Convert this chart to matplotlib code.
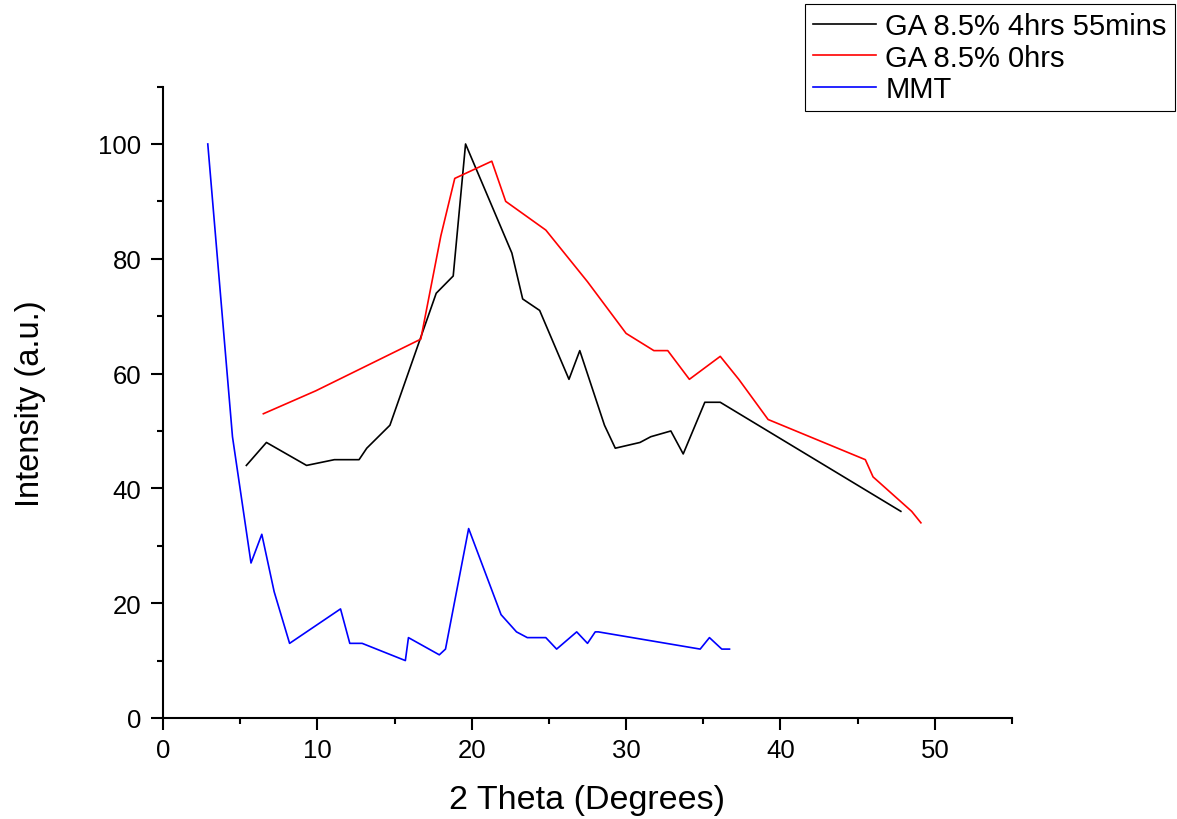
import numpy as np
import matplotlib
matplotlib.use('Agg')
import matplotlib.pyplot as plt
from matplotlib.ticker import MultipleLocator

plt.rcParams['font.family'] = ['Liberation Sans', 'DejaVu Sans']

# GA 8.5% 4hrs 55mins
ga_long_x = [5.4, 6.7, 9.3, 11.1, 12.7, 13.2, 14.7, 17.7, 18.8, 19.6, 22.6, 23.3, 24.4,
             26.3, 27.0, 28.6, 29.3, 30.9, 31.6, 32.9, 33.7, 35.1, 36.1, 47.8]
ga_long_y = [44, 48, 44, 45, 45, 47, 51, 74, 77, 100, 81, 73, 71,
             59, 64, 51, 47, 48, 49, 50, 46, 55, 55, 36]

# GA 8.5% 0hrs
ga_zero_x = [6.5, 9.9, 16.7, 18.0, 18.9, 21.3, 22.2, 24.8, 27.5, 30.0, 31.8, 32.7,
             34.1, 36.1, 37.3, 39.2, 45.5, 46.0, 48.5, 49.1]
ga_zero_y = [53, 57, 66, 84, 94, 97, 90, 85, 76, 67, 64, 64,
             59, 63, 59, 52, 45, 42, 36, 34]

# MMT
mmt_x = [2.9, 4.5, 5.7, 6.4, 7.2, 8.2, 11.5, 12.1, 12.9, 15.7, 15.9, 17.9, 18.3, 19.8,
         21.9, 22.9, 23.6, 24.8, 25.5, 26.8, 27.5, 28.0, 28.2, 34.8, 35.4, 36.2, 36.7]
mmt_y = [100, 49, 27, 32, 22, 13, 19, 13, 13, 10, 14, 11, 12, 33,
         18, 15, 14, 14, 12, 15, 13, 15, 15, 12, 14, 12, 12]

labels = ['GA 8.5% 4hrs 55mins', 'GA 8.5% 0hrs', 'MMT']

fig = plt.figure(figsize=(11.77, 8.2), dpi=100)
ax = fig.add_axes([0.1385, 0.1232, 0.7213, 0.77])

lw = 1.2
ax.plot(ga_long_x, ga_long_y, color='black', lw=lw, label=labels[0])
ax.plot(ga_zero_x, ga_zero_y, color='#ff0000', lw=lw, label=labels[1])
ax.plot(mmt_x, mmt_y, color='#0000ff', lw=lw, label=labels[2])

ax.set_xlim(0, 55)
ax.set_ylim(0, 110)
ax.xaxis.set_major_locator(MultipleLocator(10))
ax.xaxis.set_minor_locator(MultipleLocator(5))
ax.yaxis.set_major_locator(MultipleLocator(20))
ax.yaxis.set_minor_locator(MultipleLocator(10))

for s in ['top', 'right']:
    ax.spines[s].set_visible(False)
for s in ['left', 'bottom']:
    ax.spines[s].set_linewidth(1.5)

ax.tick_params(which='major', direction='out', length=8.5, width=1.5, labelsize=18.5)
ax.tick_params(axis='y', which='major', pad=7)
ax.tick_params(axis='x', which='major', pad=6)
ax.tick_params(which='minor', direction='out', length=4.5, width=1.5)

ax.set_xlabel('2 Theta (Degrees)', fontsize=24.5, labelpad=16)
ax.set_ylabel('Intensity (a.u.)', fontsize=23.5, labelpad=38)

leg = fig.legend(loc='upper right', bbox_to_anchor=(1175/1177, 1 - 5/820),
                 fontsize=21, frameon=True, fancybox=False, framealpha=1,
                 edgecolor='black', handlelength=2.15, handletextpad=0.33,
                 labelspacing=0.12, borderpad=0.28, borderaxespad=0)
leg.get_frame().set_linewidth(0.8)

fig.savefig('out.png', dpi=100)
